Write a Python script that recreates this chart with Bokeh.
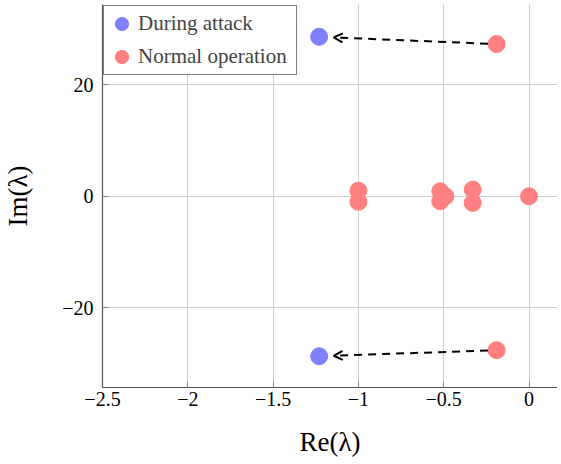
from bokeh.plotting import figure
from bokeh.models import (Range1d, FixedTicker, Arrow, OpenHead, Legend, LegendItem)
from bokeh.embed import file_html
from bokeh.resources import INLINE

# ---- data ----
normal_re = [-0.19, -0.19, -1.0, -1.0, -0.52, -0.52, -0.49, -0.33, -0.33, 0.0]
normal_im = [27.3, -27.6, 1.0, -1.0, 0.9, -0.9, 0.0, 1.2, -1.2, 0.0]
attack_re = [-1.23, -1.23]
attack_im = [28.6, -28.7]
arrow_from_re = [-0.19, -0.19]
arrow_from_im = [27.3, -27.6]

x_ticks = [-2.5, -2.0, -1.5, -1.0, -0.5, 0.0]
x_tick_labels = ["−2.5", "−2", "−1.5", "−1", "−0.5", "0"]
y_ticks = [-20, 0, 20]
y_tick_labels = ["−20", "0", "20"]

FONT = "Liberation Serif"
RED = "#ff8080"
BLUE = "#8080ff"

p = figure(width=557, height=460, output_backend="svg", toolbar_location=None,
           x_range=Range1d(-2.5, 0.167), y_range=Range1d(-34.3, 34.4),
           min_border_left=102, min_border_right=0, min_border_top=4,
           min_border_bottom=73)
p.outline_line_color = None
p.background_fill_color = "white"
p.border_fill_color = "white"

for ax in (p.xaxis, p.yaxis):
    ax.axis_line_color = "#555555"
    ax.axis_line_width = 1.2
    ax.major_tick_line_color = "#888888"
    ax.major_tick_in = 6
    ax.major_tick_out = 0
    ax.minor_tick_line_color = None
    ax.major_label_text_font = FONT
    ax.major_label_text_font_size = "20px"
    ax.major_label_text_color = "black"
    ax.axis_label_text_font = FONT
    ax.axis_label_text_font_size = "27px"
    ax.axis_label_text_font_style = "normal"
    ax.axis_label_text_color = "black"

p.xaxis.ticker = FixedTicker(ticks=x_ticks)
p.xaxis.major_label_overrides = {t: l for t, l in zip(x_ticks, x_tick_labels)}
p.yaxis.ticker = FixedTicker(ticks=y_ticks)
p.yaxis.major_label_overrides = {t: l for t, l in zip(y_ticks, y_tick_labels)}
p.xaxis.axis_label = "Re(λ)"
p.yaxis.axis_label = "Im(λ)"
p.xaxis.major_label_standoff = 4
p.yaxis.major_label_standoff = 9
p.xaxis.axis_label_standoff = 18
p.yaxis.axis_label_standoff = 26

p.xgrid.grid_line_color = "#cccccc"
p.ygrid.grid_line_color = "#cccccc"
p.xgrid.ticker = FixedTicker(ticks=x_ticks)
p.ygrid.ticker = FixedTicker(ticks=y_ticks)

# arrows from normal to attack eigenvalues (shortened near the markers)
for xr, yr, xa, ya in zip(arrow_from_re, arrow_from_im, attack_re, attack_im):
    xs = xr - 0.05
    xe = xa + 0.085
    t_s = (xs - xr) / (xa - xr)
    t_e = (xe - xr) / (xa - xr)
    ys = yr + t_s * (ya - yr)
    ye = yr + t_e * (ya - yr)
    p.add_layout(Arrow(end=OpenHead(size=9, line_width=2, line_color="black"),
                       x_start=xs, y_start=ys, x_end=xe, y_end=ye,
                       line_color="black", line_width=2, line_dash="8 6"))

r_att = p.scatter(attack_re, attack_im, size=17, fill_color=BLUE, line_color=BLUE)
r_norm = p.scatter(normal_re, normal_im, size=17, fill_color=RED, line_color=RED)

legend = Legend(items=[LegendItem(label="During attack", renderers=[r_att]),
                       LegendItem(label="Normal operation", renderers=[r_norm])],
                location="top_left")
legend.label_text_font = FONT
legend.label_text_font_size = "21px"
legend.border_line_color = "black"
legend.border_line_width = 1
legend.background_fill_alpha = 1.0
legend.margin = 1
legend.padding = 1
legend.spacing = 0
legend.glyph_width = 33
legend.glyph_height = 33
legend.label_height = 33
legend.label_width = 157
legend.label_standoff = 0
p.add_layout(legend)

open("out.html", "w").write(file_html(p, INLINE))
